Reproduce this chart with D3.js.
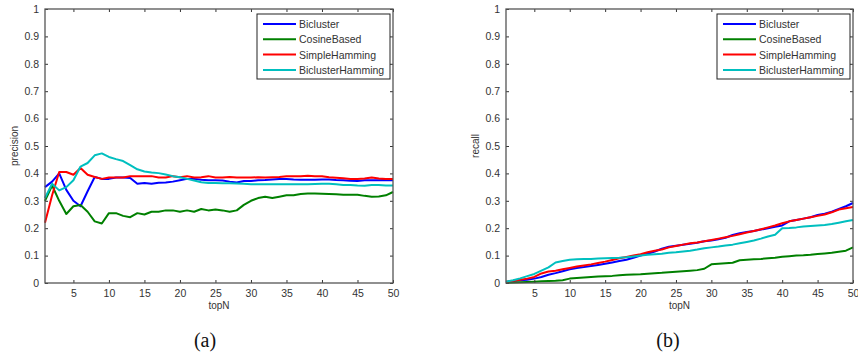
<!DOCTYPE html>
<html>
<head>
<meta charset="utf-8">
<script src="https://cdn.jsdelivr.net/npm/d3@7"></script>
<style>
  body { margin: 0; background: #fff; }
  svg text { font-family: "Liberation Sans", Arial, sans-serif; }
</style>
</head>
<body>
<div id="chart"></div>
<script>
(function() {
  const width = 858;
  const height = 360;

  // ===== dados =====
  const topN = d3.range(1, 51);
  const seriesNames = ["Bicluster", "CosineBased", "SimpleHamming", "BiclusterHamming"];
  const seriesColors = ["#0000ff", "#008000", "#ff0000", "#00bfbf"];
  const xTicks = [5, 10, 15, 20, 25, 30, 35, 40, 45, 50];
  const yTicks = [0, 0.1, 0.2, 0.3, 0.4, 0.5, 0.6, 0.7, 0.8, 0.9, 1];

  const precisionBicluster = [0.35, 0.37, 0.40, 0.34, 0.30, 0.28, 0.335, 0.387, 0.38, 0.38,
    0.385, 0.385, 0.383, 0.362, 0.365, 0.362, 0.366, 0.367, 0.37, 0.375,
    0.38, 0.38, 0.377, 0.375, 0.375, 0.374, 0.37, 0.367, 0.372, 0.372,
    0.375, 0.376, 0.378, 0.38, 0.38, 0.378, 0.377, 0.377, 0.377, 0.378,
    0.378, 0.376, 0.375, 0.373, 0.372, 0.375, 0.375, 0.375, 0.376, 0.375];
  const precisionCosine = [0.30, 0.356, 0.30, 0.252, 0.28, 0.285, 0.26, 0.225, 0.217, 0.255,
    0.255, 0.245, 0.24, 0.255, 0.25, 0.26, 0.26, 0.265, 0.265, 0.26,
    0.265, 0.26, 0.27, 0.265, 0.268, 0.265, 0.26, 0.265, 0.285, 0.30,
    0.31, 0.315, 0.31, 0.315, 0.32, 0.32, 0.325, 0.327, 0.327, 0.326,
    0.325, 0.324, 0.322, 0.322, 0.322, 0.318, 0.315, 0.316, 0.32, 0.332];
  const precisionSimple = [0.22, 0.32, 0.405, 0.405, 0.395, 0.42, 0.395, 0.387, 0.38, 0.385,
    0.385, 0.385, 0.39, 0.39, 0.39, 0.39, 0.385, 0.385, 0.39, 0.386,
    0.39, 0.385, 0.386, 0.39, 0.385, 0.385, 0.387, 0.385, 0.385, 0.385,
    0.386, 0.385, 0.386, 0.387, 0.39, 0.39, 0.39, 0.391, 0.39, 0.39,
    0.386, 0.384, 0.382, 0.38, 0.38, 0.381, 0.385, 0.381, 0.38, 0.38];
  const precisionBiclusterHamming = [0.31, 0.362, 0.338, 0.35, 0.375, 0.425, 0.438, 0.466, 0.473, 0.46,
    0.452, 0.445, 0.43, 0.415, 0.407, 0.403, 0.401, 0.396, 0.39, 0.386,
    0.38, 0.374, 0.368, 0.365, 0.365, 0.364, 0.364, 0.363, 0.362, 0.36,
    0.36, 0.36, 0.36, 0.36, 0.36, 0.36, 0.36, 0.36, 0.361, 0.362,
    0.362, 0.36, 0.358, 0.358, 0.356, 0.355, 0.358, 0.358, 0.356, 0.356];

  const recallBicluster = [0.003, 0.007, 0.01, 0.012, 0.016, 0.022, 0.03, 0.036, 0.043, 0.05,
    0.055, 0.058, 0.062, 0.066, 0.07, 0.075, 0.08, 0.085, 0.092, 0.1,
    0.107, 0.115, 0.125, 0.132, 0.136, 0.14, 0.143, 0.147, 0.152, 0.155,
    0.16, 0.165, 0.175, 0.182, 0.186, 0.19, 0.195, 0.2, 0.205, 0.21,
    0.225, 0.23, 0.235, 0.24, 0.248, 0.253, 0.26, 0.27, 0.28, 0.292];
  const recallCosine = [0.001, 0.002, 0.003, 0.004, 0.005, 0.006, 0.007, 0.008, 0.01, 0.016,
    0.018, 0.02, 0.022, 0.024, 0.025, 0.026, 0.028, 0.03, 0.031, 0.032,
    0.034, 0.036, 0.037, 0.039, 0.041, 0.043, 0.045, 0.047, 0.052, 0.068,
    0.07, 0.072, 0.074, 0.083, 0.085, 0.087, 0.088, 0.09, 0.092, 0.096,
    0.098, 0.1, 0.101, 0.103, 0.106, 0.108, 0.11, 0.114, 0.118, 0.13];
  const recallSimple = [0.005, 0.008, 0.012, 0.016, 0.022, 0.035, 0.042, 0.045, 0.05, 0.055,
    0.06, 0.064, 0.068, 0.073, 0.078, 0.084, 0.09, 0.095, 0.1, 0.105,
    0.112, 0.118, 0.122, 0.13, 0.135, 0.14, 0.145, 0.148, 0.152, 0.157,
    0.162, 0.167, 0.172, 0.178, 0.184, 0.19, 0.196, 0.203, 0.21, 0.218,
    0.225, 0.23, 0.235, 0.24, 0.245, 0.25, 0.258, 0.268, 0.273, 0.277];
  const recallBiclusterHamming = [0.005, 0.01, 0.017, 0.025, 0.033, 0.045, 0.057, 0.075, 0.08, 0.085,
    0.087, 0.088, 0.088, 0.089, 0.09, 0.091, 0.092, 0.094, 0.097, 0.1,
    0.103, 0.105, 0.107, 0.11, 0.112, 0.115, 0.118, 0.122, 0.127, 0.13,
    0.133, 0.137, 0.14, 0.145, 0.15, 0.155, 0.162, 0.17, 0.176, 0.2,
    0.201, 0.203, 0.206, 0.208, 0.21, 0.212, 0.215, 0.22, 0.225, 0.23];

  const svg = d3.select("#chart").append("svg")
    .attr("width", width)
    .attr("height", height);

  function drawPanel(p) {
    const x = d3.scaleLinear().domain([1, 50]).range([p.left, p.right]);
    const y = d3.scaleLinear().domain([0, 1]).range([283, 9]);
    const g = svg.append("g");

    // linhas
    const line = d3.line().x((d, i) => x(topN[i])).y(d => y(d));
    g.append("g").selectAll("path")
      .data(p.series)
      .join("path")
      .attr("d", d => line(d))
      .attr("fill", "none")
      .attr("stroke", (d, i) => seriesColors[i])
      .attr("stroke-width", 2)
      .attr("stroke-linejoin", "round");

    // eixos (ticks para dentro, estilo matlab)
    const fmt = d => d3.format("~g")(d);
    g.append("g").attr("transform", `translate(0,${y(0)})`)
      .call(d3.axisBottom(x).tickValues(xTicks).tickSizeInner(-3).tickSizeOuter(0).tickPadding(7))
      .call(a => a.select(".domain").remove());
    g.append("g").attr("transform", `translate(0,${y(1)})`)
      .call(d3.axisTop(x).tickValues(xTicks).tickSizeInner(-3).tickSizeOuter(0).tickFormat(""))
      .call(a => a.select(".domain").remove());
    g.append("g").attr("transform", `translate(${p.left},0)`)
      .call(d3.axisLeft(y).tickValues(yTicks).tickSizeInner(-3).tickSizeOuter(0).tickPadding(6).tickFormat(fmt))
      .call(a => a.select(".domain").remove());
    g.append("g").attr("transform", `translate(${p.right},0)`)
      .call(d3.axisRight(y).tickValues(yTicks).tickSizeInner(-3).tickSizeOuter(0).tickFormat(""))
      .call(a => a.select(".domain").remove());
    g.selectAll(".tick line").attr("stroke", "#333");
    g.selectAll(".tick text")
      .attr("fill", "#333")
      .style("font-size", "10.5px")
      .style("font-family", "'Liberation Sans', Arial, sans-serif");

    g.append("rect")
      .attr("x", p.left).attr("y", y(1))
      .attr("width", p.right - p.left).attr("height", y(0) - y(1))
      .attr("fill", "none").attr("stroke", "#555").attr("stroke-width", 1.3);

    // rótulos
    g.append("text")
      .attr("transform", `translate(${p.left - 27},${(y(0) + y(1)) / 2}) rotate(-90)`)
      .attr("text-anchor", "middle")
      .attr("fill", "#333")
      .style("font-size", "10px")
      .text(p.ylabel);
    g.append("text")
      .attr("x", (p.left + p.right) / 2).attr("y", 309)
      .attr("text-anchor", "middle")
      .attr("fill", "#333")
      .style("font-size", "10px")
      .text("topN");
    g.append("text")
      .attr("x", p.caption).attr("y", 347)
      .attr("text-anchor", "middle")
      .attr("fill", "#111")
      .style("font-family", "'Liberation Serif', 'DejaVu Serif', serif")
      .style("font-size", "20px")
      .text(p.label);

    // legenda
    const lg = g.append("g").attr("transform", `translate(${p.right - 136},14)`);
    lg.append("rect")
      .attr("width", 133).attr("height", 65)
      .attr("fill", "#fff").attr("stroke", "#222").attr("stroke-width", 1);
    const rows = lg.selectAll("g.row")
      .data(seriesNames)
      .join("g")
      .attr("class", "row")
      .attr("transform", (d, i) => `translate(0,${10 + i * 15.3})`);
    rows.append("line")
      .attr("x1", 6).attr("x2", 39)
      .attr("stroke", (d, i) => seriesColors[i])
      .attr("stroke-width", 2);
    rows.append("text")
      .attr("x", 42).attr("y", 4)
      .attr("fill", "#333")
      .style("font-size", "10.5px")
      .text(d => d);
  }

  drawPanel({
    left: 45, right: 393, ylabel: "precision", label: "(a)", caption: 205,
    series: [precisionBicluster, precisionCosine, precisionSimple, precisionBiclusterHamming]
  });
  drawPanel({
    left: 506, right: 853, ylabel: "recall", label: "(b)", caption: 668,
    series: [recallBicluster, recallCosine, recallSimple, recallBiclusterHamming]
  });
})();
</script>
</body>
</html>
